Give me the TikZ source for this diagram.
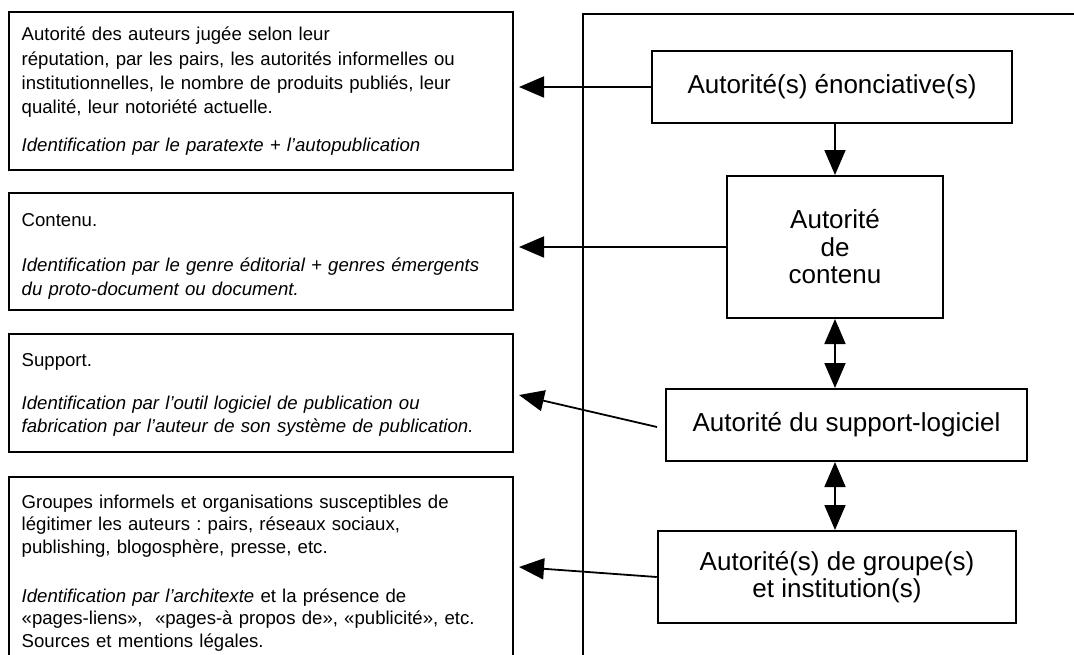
\documentclass[tikz,border=0pt]{standalone}
\usepackage{fontspec}
\setmainfont{Liberation Sans}
\usetikzlibrary{arrows.meta}
\AtBeginDocument{\frenchspacing}
\begin{document}
\begin{tikzpicture}[x=1pt,y=-1pt,
  lbox/.style={draw, line width=2pt, minimum width=504pt, inner sep=0pt},
  ltext/.style={anchor=base west, inner sep=0pt, align=left, text width=495pt},
  rbox/.style={draw, line width=2pt, inner sep=0pt, align=center, font=\fontsize{26}{27.5}\selectfont},
  arr/.style={line width=1.8pt, -{Triangle[length=25pt,width=21pt]}},
  darr/.style={line width=1.8pt, {Triangle[length=25pt,width=21pt]}-{Triangle[length=25pt,width=21pt]}}
]
\useasboundingbox (0,0) rectangle (1074,654);
\clip (0,0) rectangle (1074,654);
\fill[white] (0,0) rectangle (1074,654);

% outer frame
\draw[line width=2pt] (1100,14) -- (583,14) -- (583,700);

% left boxes
\node[lbox, minimum height=158pt] (lb1) at (261,91) {};
\node[lbox, minimum height=117pt] (lb2) at (261,251.5) {};
\node[lbox, minimum height=118pt] (lb3) at (261,393) {};
\node[lbox, minimum height=223pt] (lb4) at (261,588.5) {};

\node[ltext, font=\fontsize{18.6}{24.3}\selectfont] (lt1) at (21.5,40.7)
 {Autorité des auteurs jugée selon leur\\
  réputation, par les pairs, les autorités informelles ou\\
  institutionnelles, le nombre de produits publiés, leur\\
  qualité, leur notoriété actuelle.\\[14pt]
  \textit{Identification par le paratexte + l’autopublication}};

\node[ltext, font=\fontsize{18.6}{23.3}\selectfont] (lt2) at (21.5,226.5)
 {Contenu.\\[22pt]
  \textit{Identification par le genre éditorial + genres émergents}\\
  \textit{du proto-document ou document.}};

\node[ltext, font=\fontsize{18.6}{23}\selectfont] (lt3) at (21.5,366.7)
 {Support.\\[20pt]
  \textit{Identification par l’outil logiciel de publication ou}\\
  \textit{fabrication par l’auteur de son système de publication.}};

\node[ltext, font=\fontsize{18.6}{22.7}\selectfont] (lt4) at (21.5,508)
 {Groupes informels et organisations susceptibles de\\
  légitimer les auteurs : pairs, réseaux sociaux,\\
  publishing, blogosphère, presse, etc.\\[26pt]
  \textit{Identification par l’architexte} et la présence de\\
  «pages-liens»,~ «pages-à propos de», «publicité», etc.\\
  Sources et mentions légales.};

% right boxes
\node[rbox, minimum width=360pt, minimum height=72pt] (b1) at (832,87) {Autorité(s) énonciative(s)};
\node[rbox, minimum width=216pt, minimum height=142pt] (b2) at (835,247) {Autorité\\de\\contenu};
\node[rbox, minimum width=361pt, minimum height=72pt] (b3) at (846.5,425) {Autorité du support-logiciel};
\node[rbox, minimum width=358.5pt, minimum height=92pt] (b4) at (837,577) {Autorité(s) de groupe(s)\\et institution(s)};

% vertical arrows
\draw[arr] (b2.north |- b1.south) -- (b2.north);
\draw[darr] (b2.south) -- (b2.south |- b3.north);
\draw[darr] (b2.south |- b3.south) -- (b2.south |- b4.north);

% horizontal arrows
\coordinate (t1) at (519,87);
\coordinate (t2) at (519,247);
\coordinate (t3) at (519,395);
\coordinate (t4) at (519,567);
\draw[arr] (b1.west) -- (t1);
\draw[arr] (b2.west) -- (t2);
\draw[arr] ([shift={(-8,2)}]b3.west) -- (t3);
\draw[arr] (b4.west) -- (t4);
\end{tikzpicture}
\end{document}
